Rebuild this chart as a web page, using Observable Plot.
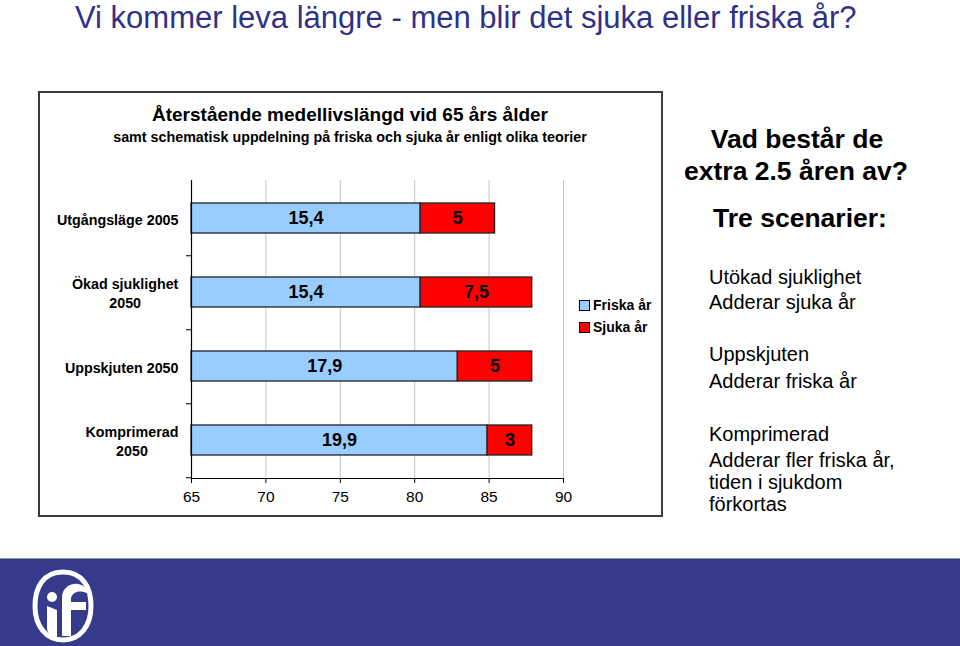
<!DOCTYPE html>
<html>
<head>
<meta charset="utf-8">
<script src="https://cdn.jsdelivr.net/npm/d3@7"></script>
<script src="https://cdn.jsdelivr.net/npm/@observablehq/plot@0.6"></script>
<style>
  html, body { margin: 0; padding: 0; background: #fff; }
  body { width: 960px; height: 646px; position: relative; overflow: hidden; font-family: Arial, "Liberation Sans", sans-serif; }
  .abs { position: absolute; white-space: nowrap; }
  #title { left: 75px; top: 0px; font-size: 31px; color: #2E3187; }
  #box { left: 38px; top: 91px; width: 621px; height: 422px; border: 2px solid #3a3a3a; }
  #ctitle { left: 40px; width: 620px; top: 104px; text-align: center; font-weight: bold; font-size: 19px; color: #000; }
  #csub { left: 40px; width: 620px; top: 129px; text-align: center; font-weight: bold; font-size: 14.3px; color: #000; }
  .leg { font-weight: bold; font-size: 14px; color: #000; display: flex; align-items: center; }
  .leg span.sw { display: inline-block; width: 9px; height: 9px; border: 1px solid #000; margin-right: 3px; }
  .rh { font-weight: bold; font-size: 26.5px; color: #000; text-align: center; }
  .rt { font-size: 20px; color: #000; line-height: 22px; }
  #band { left: 0; top: 558px; width: 960px; height: 88px; background: #363A8B; border-top: 1px solid #9a9a9a; }
</style>
</head>
<body>
<script>
// ---- data ----
const categories = ["Utgångsläge 2005", "Ökad sjuklighet 2050", "Uppskjuten 2050", "Komprimerad 2050"];
const categoryLabels = ["Utgångsläge 2005", "Ökad sjuklighet\n2050", "Uppskjuten 2050", "Komprimerad\n2050"];
const friska = [15.4, 15.4, 17.9, 19.9];
const sjuka = [5, 7.5, 5, 3];
const startAge = 65;
const series = ["Friska år", "Sjuka år"];
const seriesColors = ["#99CCFF", "#FF0000"];
const xTicks = [65, 70, 75, 80, 85, 90];

const slideTitle = "Vi kommer leva längre - men blir det sjuka eller friska år?";
const chartTitle = "Återstående medellivslängd vid 65 års ålder";
const chartSubtitle = "samt schematisk uppdelning på friska och sjuka år enligt olika teorier";
const rightHeading = ["Vad består de", "extra 2.5 åren av?"];
const rightHeading2 = "Tre scenarier:";
const scenarioTexts = [
  ["Utökad sjuklighet", "Adderar sjuka år"],
  ["Uppskjuten", "Adderar friska år"],
  ["Komprimerad", "Adderar fler friska år,", "tiden i sjukdom", "förkortas"]
];

// ---- build table ----
const rows = [];
categories.forEach((c, i) => {
  const a = startAge, b = startAge + friska[i], e = b + sjuka[i];
  rows.push({cat: c, serie: series[0], x1: a, x2: b, value: friska[i]});
  rows.push({cat: c, serie: series[1], x1: b, x2: e, value: sjuka[i]});
});
const fmt = v => v.toLocaleString("sv-SE");
const labelOf = new Map(categories.map((c, i) => [c, categoryLabels[i]]));

// ---- static texts ----
function addDiv(id, cls, text, style) {
  const d = document.createElement("div");
  if (id) d.id = id;
  d.className = "abs " + (cls || "");
  d.textContent = text;
  if (style) Object.assign(d.style, style);
  document.body.appendChild(d);
  return d;
}
addDiv("title", "", slideTitle);
addDiv("box", "", "");
addDiv("ctitle", "", chartTitle);
addDiv("csub", "", chartSubtitle);
addDiv("band", "", "");

// ---- chart ----
const width = 620, height = 348;
const mTop = 20, mBottom = 30, mLeft = 151, mRight = 97;
const step = (height - mTop - mBottom) / categories.length;

const chart = Plot.plot({
  width, height,
  marginTop: mTop, marginBottom: mBottom, marginLeft: mLeft, marginRight: mRight,
  style: {fontFamily: 'Arial, "Liberation Sans", sans-serif', color: "#000", background: "transparent"},
  x: {domain: [65, 90], ticks: xTicks},
  y: {domain: categories, paddingInner: 0.6, paddingOuter: 0.3},
  color: {domain: series, range: seriesColors},
  marks: [
    Plot.ruleX(xTicks.slice(1), {stroke: "#c4c4c4", strokeWidth: 1}),
    Plot.barX(rows, {y: "cat", x1: "x1", x2: "x2", fill: "serie", stroke: "#222", strokeWidth: 1.3}),
    Plot.text(rows, {y: "cat", x: d => (d.x1 + d.x2) / 2, text: d => fmt(d.value), fontWeight: "bold", fontSize: 18, fill: "#000"}),
    Plot.ruleX([startAge], {stroke: "#000", strokeWidth: 1.2}),
    Plot.ruleY(categories, {y: d => d, x1: startAge, x2: startAge, insetLeft: -5, dy: step / 2, stroke: "#000"}),
    Plot.frame({anchor: "bottom", stroke: "#000", strokeWidth: 1.2}),
    Plot.axisX({ticks: xTicks, tickSize: 5, tickPadding: 7, fontSize: 15.5, label: null, tickFormat: d => String(d)}),
    Plot.axisY({tickSize: 0, tickPadding: 13, fontSize: 14.3, fontWeight: "bold", label: null, lineHeight: 1.35, tickFormat: d => labelOf.get(d)})
  ]
});
chart.style.position = "absolute";
chart.style.left = "40px";
chart.style.top = "160px";
chart.style.overflow = "visible";
document.body.appendChild(chart);

// ensure tick label font size on the x axis
chart.querySelectorAll('g[aria-label="x-axis tick label"]').forEach(g => g.setAttribute("font-size", "15.5"));

// center multi-line category labels as a block
chart.querySelectorAll('g[aria-label="y-axis tick label"] text').forEach(t => {
  if (t.querySelectorAll("tspan").length > 1) {
    const w = t.getBBox().width;
    t.setAttribute("text-anchor", "middle");
    const tr = t.getAttribute("transform") || "";
    t.setAttribute("transform", tr + ` translate(${-w / 2},0)`);
  }
});

// ---- legend ----
series.forEach((s, i) => {
  const d = document.createElement("div");
  d.className = "abs leg";
  d.style.left = "579px";
  d.style.top = (297 + i * 22) + "px";
  const sw = document.createElement("span");
  sw.className = "sw";
  sw.style.background = seriesColors[i];
  d.appendChild(sw);
  d.appendChild(document.createTextNode(s));
  document.body.appendChild(d);
});

// ---- right-side text ----
addDiv(null, "rh", rightHeading[0], {left: "697px", width: "200px", top: "124px"});
addDiv(null, "rh", rightHeading[1], {left: "676px", width: "240px", top: "156px"});
addDiv(null, "rh", rightHeading2, {left: "700px", width: "200px", top: "203px"});
const lineTops = [[266, 291], [343, 370], [423, 449, 471, 493]];
scenarioTexts.forEach((lines, i) => {
  lines.forEach((l, j) => {
    addDiv(null, "rt", l, {left: "709px", top: lineTops[i][j] + "px"});
  });
});

// ---- logo (decoration) ----
const ns = "http://www.w3.org/2000/svg";
const logo = document.createElementNS(ns, "svg");
logo.setAttribute("width", "70");
logo.setAttribute("height", "80");
logo.style.position = "absolute";
logo.style.left = "28px";
logo.style.top = "566px";
logo.innerHTML = `
  <path d="M35 6 C55 6 63 22 63 40 C63 60 52 74 35 74 C18 74 7 60 7 40 C7 22 15 6 35 6 Z" fill="none" stroke="#fff" stroke-width="5"/>
  <circle cx="24" cy="31" r="5" fill="#fff"/>
  <path d="M19 40 L19 62 C19 68 24 71 29 71 L29 44 Z" fill="#fff"/>
  <path d="M34 70 L34 32 C34 22 42 17 50 18 C56 19 59 23 59 27 C52 24 45 25 43 32 L43 36 L58 36 L58 44 L43 44 L43 70 Z" fill="#fff"/>
`;
document.body.appendChild(logo);
</script>
</body>
</html>
